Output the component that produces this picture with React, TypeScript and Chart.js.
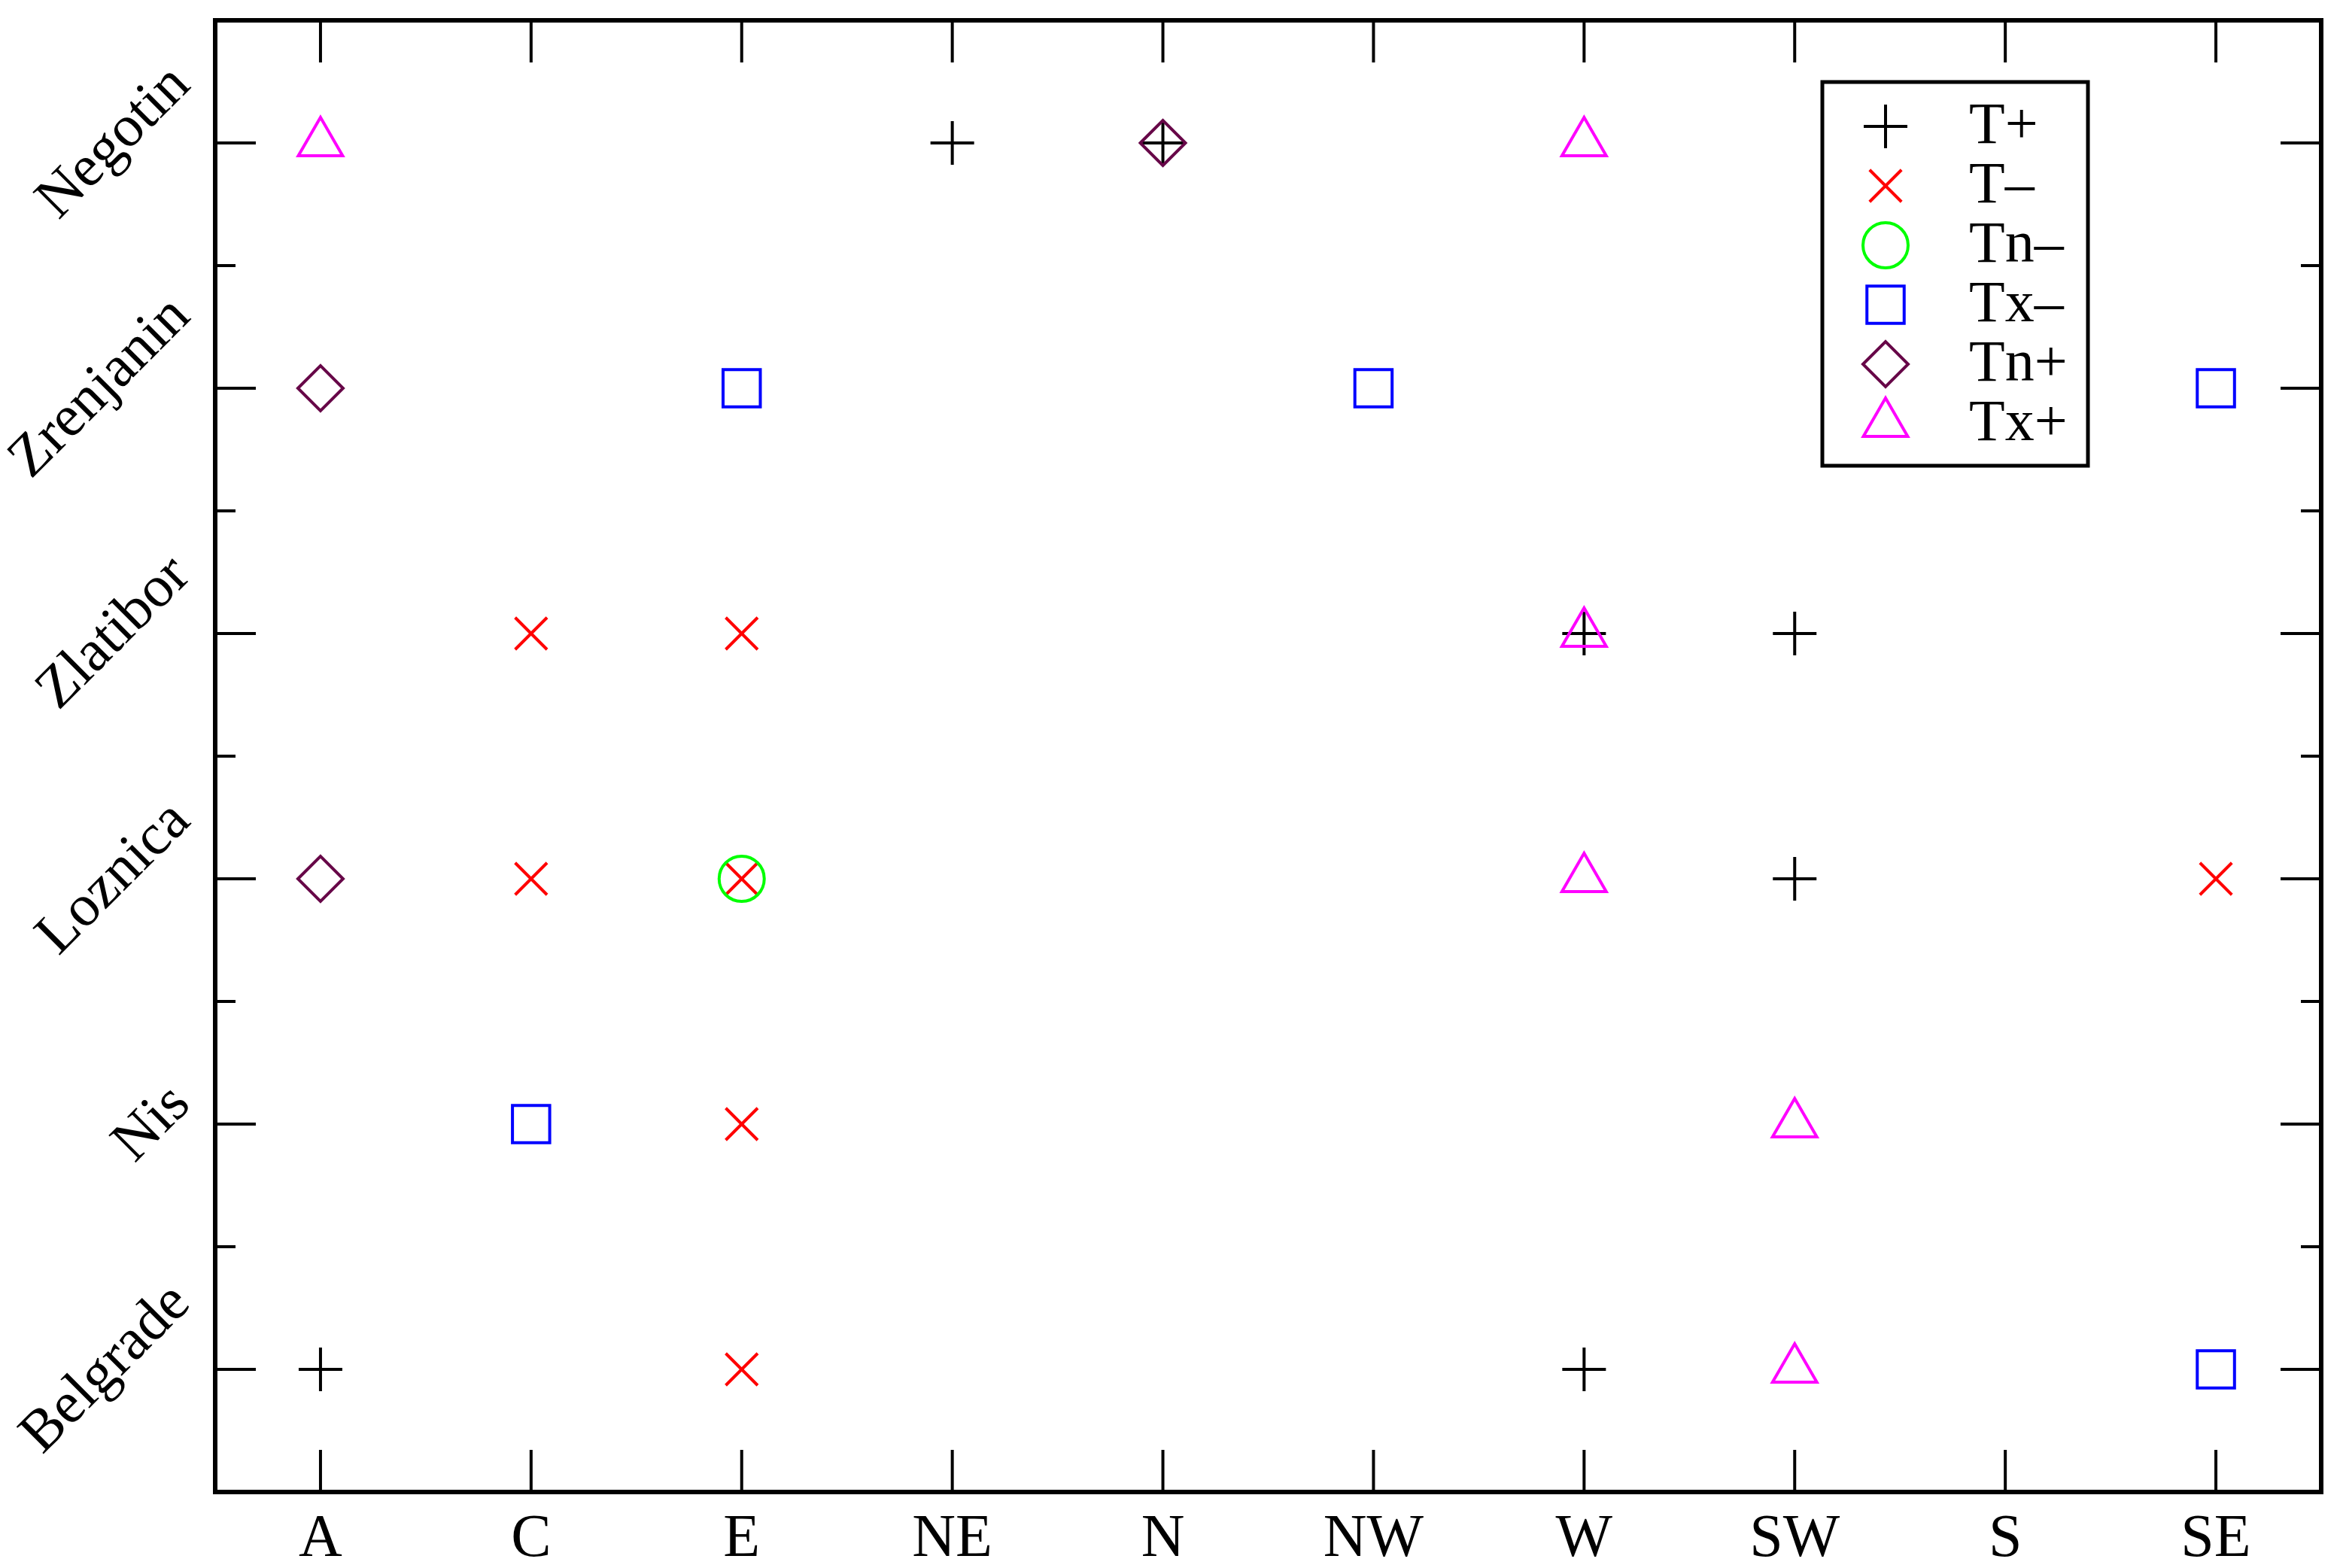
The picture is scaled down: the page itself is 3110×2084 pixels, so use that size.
import React, { useEffect, useRef } from 'react';
import { Chart, registerables } from 'chart.js';
import { drawPoint } from 'chart.js/helpers';

Chart.register(...registerables);

const directions = ['A', 'C', 'E', 'NE', 'N', 'NW', 'W', 'SW', 'S', 'SE'];
const stations = ['Belgrade', 'Nis', 'Loznica', 'Zlatibor', 'Zrenjanin', 'Negotin'];

const tPlusDir = ['NE', 'N', 'W', 'SW', 'SW', 'A', 'W'];
const tPlusStation = ['Negotin', 'Negotin', 'Zlatibor', 'Zlatibor', 'Loznica', 'Belgrade', 'Belgrade'];
const tMinusDir = ['C', 'E', 'C', 'E', 'SE', 'E', 'E'];
const tMinusStation = ['Zlatibor', 'Zlatibor', 'Loznica', 'Loznica', 'Loznica', 'Nis', 'Belgrade'];
const tnMinusDir = ['E'];
const tnMinusStation = ['Loznica'];
const txMinusDir = ['E', 'NW', 'SE', 'C', 'SE'];
const txMinusStation = ['Zrenjanin', 'Zrenjanin', 'Zrenjanin', 'Nis', 'Belgrade'];
const tnPlusDir = ['N', 'A', 'A'];
const tnPlusStation = ['Negotin', 'Zrenjanin', 'Loznica'];
const txPlusDir = ['A', 'W', 'W', 'W', 'SW', 'SW'];
const txPlusStation = ['Negotin', 'Negotin', 'Zlatibor', 'Loznica', 'Nis', 'Belgrade'];

const seriesLabels = ['T+', 'T\u2013', 'Tn\u2013', 'Tx\u2013', 'Tn+', 'Tx+'];
const seriesDirs = [tPlusDir, tMinusDir, tnMinusDir, txMinusDir, tnPlusDir, txPlusDir];
const seriesStations = [tPlusStation, tMinusStation, tnMinusStation, txMinusStation, tnPlusStation, txPlusStation];
const seriesColors = ['#000000', '#ff0000', '#00ff00', '#0000ff', '#670748', '#ff00ff'];
const seriesStyles = ['cross', 'crossRot', 'circle', 'rect', 'rectRot', 'triangle'];
const seriesRadii = [29, 30, 30, 35, 30, 34];

const FONT = '"Liberation Serif", "Times New Roman", serif';
const TICK_FONT = 80;
const Y_FONT = 78;
const LEGEND_FONT = 78;

const zeroPadding = (s: any) => {
  s.paddingLeft = 0;
  s.paddingRight = 0;
  s.paddingTop = 0;
  s.paddingBottom = 0;
};

const framePlugin = {
  id: 'frameTicks',
  beforeDatasetsDraw(chart: any) {
    const { ctx, chartArea, scales } = chart;
    const { left, right, top, bottom } = chartArea;
    const x = scales.x;
    const y = scales.y;
    ctx.save();
    ctx.strokeStyle = '#000';
    ctx.lineCap = 'butt';
    ctx.lineWidth = 4;
    const line = (x1: number, y1: number, x2: number, y2: number) => {
      ctx.beginPath();
      ctx.moveTo(x1, y1);
      ctx.lineTo(x2, y2);
      ctx.stroke();
    };
    directions.forEach((_, i) => {
      const px = x.getPixelForValue(i);
      line(px, bottom, px, bottom - 56);
      line(px, top, px, top + 56);
    });
    stations.forEach((_, i) => {
      const py = y.getPixelForValue(i);
      line(left, py, left + 54, py);
      line(right, py, right - 54, py);
    });
    for (let i = 0; i < stations.length - 1; i++) {
      const py = y.getPixelForValue(i + 0.5);
      line(left, py, left + 27, py);
      line(right, py, right - 27, py);
    }
    ctx.lineWidth = 6;
    ctx.strokeRect(left, top, right - left, bottom - top);

    // y tick labels, rotated 45 degrees
    ctx.fillStyle = '#000';
    ctx.font = `${Y_FONT}px ${FONT}`;
    stations.forEach((s, i) => {
      const py = y.getPixelForValue(i);
      const w = ctx.measureText(s).width;
      const h = 0.62 * Y_FONT;
      const cx = left - 28 - (0.7071 * (w + h)) / 2;
      ctx.save();
      ctx.translate(cx, py);
      ctx.rotate(-Math.PI / 4);
      ctx.textAlign = 'center';
      ctx.textBaseline = 'middle';
      ctx.fillText(s, 0, 0);
      ctx.restore();
    });
    ctx.restore();
  },
  afterDraw(chart: any) {
    const { ctx, chartArea } = chart;
    const bx = chartArea.right - 663;
    const by = chartArea.top + 82;
    const bw = 353;
    const bh = 510;
    ctx.save();
    ctx.fillStyle = '#fff';
    ctx.fillRect(bx, by, bw, bh);
    ctx.strokeStyle = '#000';
    ctx.lineWidth = 5;
    ctx.strokeRect(bx, by, bw, bh);
    ctx.font = `${LEGEND_FONT}px ${FONT}`;
    ctx.textAlign = 'left';
    ctx.textBaseline = 'middle';
    seriesLabels.forEach((lab, k) => {
      const cy = by + 59 + k * 79;
      ctx.strokeStyle = seriesColors[k];
      ctx.fillStyle = 'rgba(0,0,0,0)';
      ctx.lineWidth = 4;
      drawPoint(ctx, { pointStyle: seriesStyles[k], radius: seriesRadii[k], rotation: 0, borderWidth: 4 }, bx + 84, cy);
      ctx.fillStyle = '#000';
      ctx.fillText(lab, bx + 195, cy + 2);
    });
    ctx.restore();
  },
};

export default function App() {
  const canvasRef = useRef<HTMLCanvasElement | null>(null);

  useEffect(() => {
    document.body.style.margin = '0';
    const canvas = canvasRef.current;
    if (!canvas) return;
    const datasets = seriesLabels.map((label, k) => ({
      label,
      data: seriesDirs[k].map((d, j) => ({
        x: directions.indexOf(d),
        y: stations.indexOf(seriesStations[k][j]),
      })),
      pointStyle: seriesStyles[k],
      pointRadius: seriesRadii[k],
      pointBorderWidth: 4,
      pointBorderColor: seriesColors[k],
      pointBackgroundColor: 'rgba(0,0,0,0)',
      borderColor: seriesColors[k],
      backgroundColor: 'rgba(0,0,0,0)',
      showLine: false,
      order: seriesLabels.length - k,
    }));
    const chart = new Chart(canvas, {
      type: 'scatter',
      data: { datasets },
      plugins: [framePlugin],
      options: {
        responsive: false,
        animation: false,
        events: [],
        layout: { autoPadding: false, padding: { left: 0, top: 27, right: 25, bottom: 0 } },
        plugins: { legend: { display: false }, tooltip: { enabled: false } },
        scales: {
          x: {
            type: 'linear',
            min: -0.5,
            max: 9.5,
            afterBuildTicks: (s: any) => {
              s.ticks = directions.map((_, i) => ({ value: i }));
            },
            afterFit: (s: any) => {
              s.height = 101;
              zeroPadding(s);
            },
            grid: { display: false, drawTicks: false },
            border: { display: false },
            ticks: {
              padding: 16,
              autoSkip: false,
              maxRotation: 0,
              color: '#000',
              font: { family: FONT, size: TICK_FONT },
              callback: (v: any) => directions[v] ?? '',
            },
          },
          y: {
            type: 'linear',
            min: -0.5,
            max: 5.5,
            afterFit: (s: any) => {
              s.width = 286;
              zeroPadding(s);
            },
            grid: { display: false, drawTicks: false },
            border: { display: false },
            ticks: { display: false },
          },
        },
      } as any,
    });
    return () => chart.destroy();
  }, []);

  return (
    <div style={{ position: 'absolute', left: 0, top: 0, width: 3110, height: 2084, background: '#fff' }}>
      <canvas ref={canvasRef} width={3110} height={2084} style={{ display: 'block' }} />
    </div>
  );
}
